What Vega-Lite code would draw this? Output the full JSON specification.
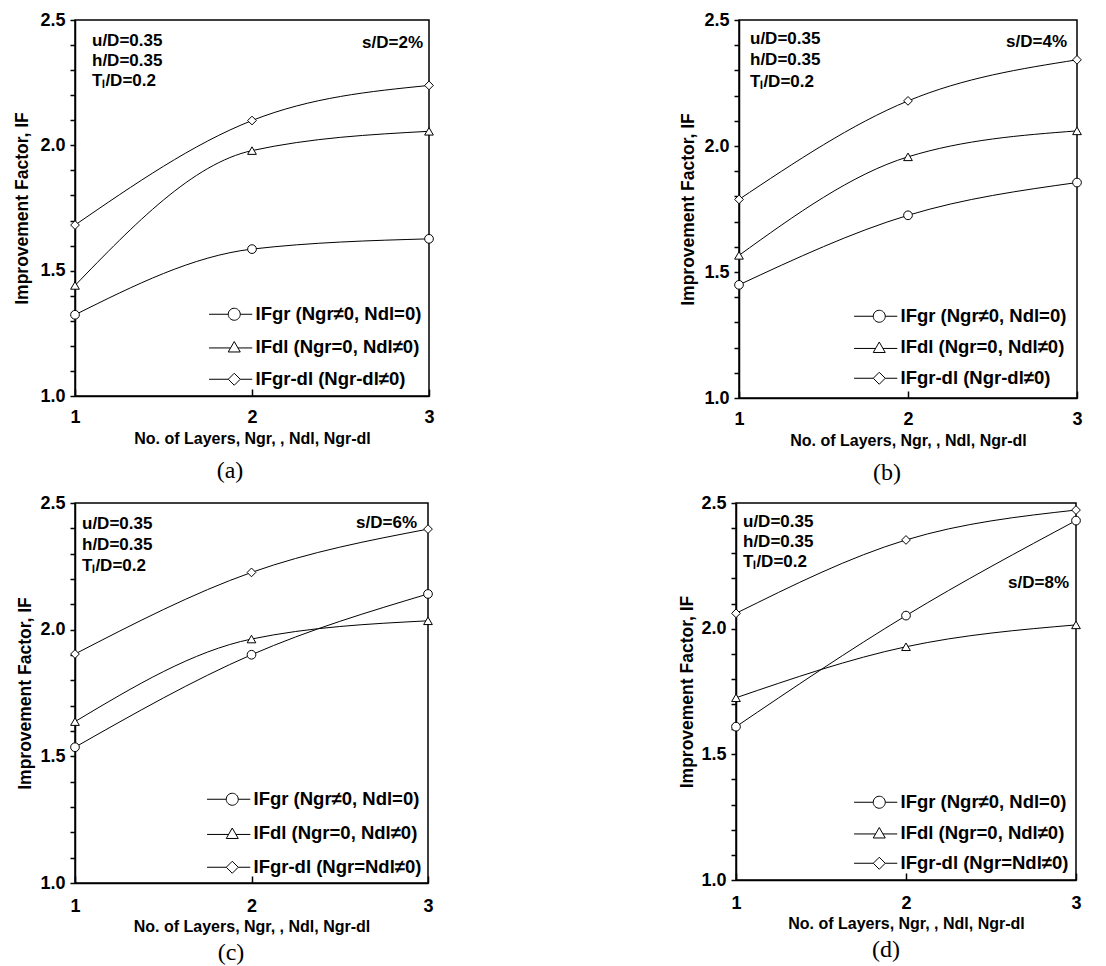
{
  "$schema": "https://vega.github.io/schema/vega-lite/v6.json",
  "padding": {"left": 12, "top": 10, "right": 5, "bottom": 0},
  "config": {
    "font": "Liberation Sans",
    "view": {"stroke": "black", "strokeWidth": 1.5},
    "axis": {"domainColor": "black", "domainWidth": 1.5, "tickColor": "black", "tickWidth": 1.5, "labelColor": "black", "titleColor": "black", "labelFont": "Liberation Sans", "titleFont": "Liberation Sans", "labelFontWeight": "bold", "titleFontWeight": "bold", "labelFontSize": 18, "grid": false},
    "legend": {"orient": "bottom-right", "title": null, "labelFont": "Liberation Sans", "labelFontWeight": "bold", "labelFontSize": 18.5, "labelColor": "black", "labelLimit": 400, "symbolStrokeColor": "black", "symbolStrokeWidth": 1, "symbolSize": 144, "labelOffset": 12, "padding": 0},
    "title": {"font": "Liberation Serif", "fontWeight": "normal", "fontSize": 24, "color": "black", "orient": "bottom", "frame": "bounds", "anchor": "middle"}
  },
  "datasets": {
    "series": [
      {"panel": "a", "series": "IFgr (Ngr≠0, Ndl=0)", "layers": 1, "IF": 1.324},
      {"panel": "a", "series": "IFgr (Ngr≠0, Ndl=0)", "layers": 2, "IF": 1.586},
      {"panel": "a", "series": "IFgr (Ngr≠0, Ndl=0)", "layers": 3, "IF": 1.627},
      {"panel": "a", "series": "IFdl (Ngr=0, Ndl≠0)", "layers": 1, "IF": 1.441},
      {"panel": "a", "series": "IFdl (Ngr=0, Ndl≠0)", "layers": 2, "IF": 1.979},
      {"panel": "a", "series": "IFdl (Ngr=0, Ndl≠0)", "layers": 3, "IF": 2.056},
      {"panel": "a", "series": "IFgr-dl (Ngr-dl≠0)", "layers": 1, "IF": 1.682},
      {"panel": "a", "series": "IFgr-dl (Ngr-dl≠0)", "layers": 2, "IF": 2.099},
      {"panel": "a", "series": "IFgr-dl (Ngr-dl≠0)", "layers": 3, "IF": 2.239},
      {"panel": "b", "series": "IFgr (Ngr≠0, Ndl=0)", "layers": 1, "IF": 1.449},
      {"panel": "b", "series": "IFgr (Ngr≠0, Ndl=0)", "layers": 2, "IF": 1.725},
      {"panel": "b", "series": "IFgr (Ngr≠0, Ndl=0)", "layers": 3, "IF": 1.855},
      {"panel": "b", "series": "IFdl (Ngr=0, Ndl≠0)", "layers": 1, "IF": 1.566},
      {"panel": "b", "series": "IFdl (Ngr=0, Ndl≠0)", "layers": 2, "IF": 1.957},
      {"panel": "b", "series": "IFdl (Ngr=0, Ndl≠0)", "layers": 3, "IF": 2.06},
      {"panel": "b", "series": "IFgr-dl (Ngr-dl≠0)", "layers": 1, "IF": 1.788},
      {"panel": "b", "series": "IFgr-dl (Ngr-dl≠0)", "layers": 2, "IF": 2.179},
      {"panel": "b", "series": "IFgr-dl (Ngr-dl≠0)", "layers": 3, "IF": 2.342},
      {"panel": "c", "series": "IFgr (Ngr≠0, Ndl=0)", "layers": 1, "IF": 1.536},
      {"panel": "c", "series": "IFgr (Ngr≠0, Ndl=0)", "layers": 2, "IF": 1.901},
      {"panel": "c", "series": "IFgr (Ngr≠0, Ndl=0)", "layers": 3, "IF": 2.141},
      {"panel": "c", "series": "IFdl (Ngr=0, Ndl≠0)", "layers": 1, "IF": 1.637},
      {"panel": "c", "series": "IFdl (Ngr=0, Ndl≠0)", "layers": 2, "IF": 1.963},
      {"panel": "c", "series": "IFdl (Ngr=0, Ndl≠0)", "layers": 3, "IF": 2.035},
      {"panel": "c", "series": "IFgr-dl (Ngr=Ndl≠0)", "layers": 1, "IF": 1.904},
      {"panel": "c", "series": "IFgr-dl (Ngr=Ndl≠0)", "layers": 2, "IF": 2.226},
      {"panel": "c", "series": "IFgr-dl (Ngr=Ndl≠0)", "layers": 3, "IF": 2.397},
      {"panel": "d", "series": "IFgr (Ngr≠0, Ndl=0)", "layers": 1, "IF": 1.61},
      {"panel": "d", "series": "IFgr (Ngr≠0, Ndl=0)", "layers": 2, "IF": 2.052},
      {"panel": "d", "series": "IFgr (Ngr≠0, Ndl=0)", "layers": 3, "IF": 2.43},
      {"panel": "d", "series": "IFdl (Ngr=0, Ndl≠0)", "layers": 1, "IF": 1.725},
      {"panel": "d", "series": "IFdl (Ngr=0, Ndl≠0)", "layers": 2, "IF": 1.928},
      {"panel": "d", "series": "IFdl (Ngr=0, Ndl≠0)", "layers": 3, "IF": 2.015},
      {"panel": "d", "series": "IFgr-dl (Ngr=Ndl≠0)", "layers": 1, "IF": 2.061},
      {"panel": "d", "series": "IFgr-dl (Ngr=Ndl≠0)", "layers": 2, "IF": 2.353},
      {"panel": "d", "series": "IFgr-dl (Ngr=Ndl≠0)", "layers": 3, "IF": 2.472}
    ],
    "notes": [
      {"panel": "a", "side": "left", "label": "u/D=0.35", "layers": 1, "IF": 2.415},
      {"panel": "a", "side": "left", "label": "h/D=0.35", "layers": 1, "IF": 2.338},
      {"panel": "a", "side": "left", "label": "Tₗ/D=0.2", "layers": 1, "IF": 2.258},
      {"panel": "a", "side": "right", "label": "s/D=2%", "layers": 3, "IF": 2.41},
      {"panel": "b", "side": "left", "label": "u/D=0.35", "layers": 1, "IF": 2.424},
      {"panel": "b", "side": "left", "label": "h/D=0.35", "layers": 1, "IF": 2.341},
      {"panel": "b", "side": "left", "label": "Tₗ/D=0.2", "layers": 1, "IF": 2.255},
      {"panel": "b", "side": "right", "label": "s/D=4%", "layers": 3, "IF": 2.411},
      {"panel": "c", "side": "left", "label": "u/D=0.35", "layers": 1, "IF": 2.417},
      {"panel": "c", "side": "left", "label": "h/D=0.35", "layers": 1, "IF": 2.335},
      {"panel": "c", "side": "left", "label": "Tₗ/D=0.2", "layers": 1, "IF": 2.25},
      {"panel": "c", "side": "right", "label": "s/D=6%", "layers": 3, "IF": 2.423},
      {"panel": "d", "side": "left", "label": "u/D=0.35", "layers": 1, "IF": 2.426},
      {"panel": "d", "side": "left", "label": "h/D=0.35", "layers": 1, "IF": 2.346},
      {"panel": "d", "side": "left", "label": "Tₗ/D=0.2", "layers": 1, "IF": 2.266},
      {"panel": "d", "side": "right", "label": "s/D=8%", "layers": 3, "IF": 2.18}
    ]
  },
  "spacing": 7,
  "vconcat": [
    {
      "spacing": 230,
      "hconcat": [
        {
          "width": 354, "height": 376,
          "title": {"text": "(a)", "offset": 13},
          "encoding": {
            "x": {"field": "layers", "type": "quantitative", "scale": {"domain": [1, 3], "nice": false, "zero": false}, "axis": {"tickCount": 2, "format": "d", "tickSize": -7, "labelPadding": 19, "labelFlush": false, "labelOverlap": false, "title": "No. of Layers, Ngr, , Ndl, Ngr-dl", "titleFontSize": 16, "titlePadding": 4}},
            "y": {"field": "IF", "type": "quantitative", "scale": {"domain": [1, 2.5], "nice": false, "zero": false}, "axis": {"values": [1, 1.1, 1.2, 1.3, 1.4, 1.5, 1.6, 1.7, 1.8, 1.9, 2, 2.1, 2.2, 2.3, 2.4, 2.5], "labelExpr": "round(datum.value * 10) % 5 == 0 ? format(datum.value, '.1f') : ''", "labelOverlap": false, "tickSize": 5, "labelPadding": 5, "title": "Improvement Factor, IF", "titleFontSize": 17.5, "titlePadding": 8, "minExtent": 36, "maxExtent": 36}}
          },
          "layer": [
            {"data": {"name": "series"}, "transform": [{"filter": "datum.panel == 'a'"}], "mark": {"type": "line", "interpolate": "monotone", "color": "black", "strokeWidth": 1}, "encoding": {"detail": {"field": "series"}}},
            {"data": {"name": "series"}, "transform": [{"filter": "datum.panel == 'a'"}], "mark": {"type": "point", "filled": true, "fill": "white", "stroke": "black", "strokeWidth": 1, "size": 76, "opacity": 1}, "encoding": {"shape": {"field": "series", "scale": {"domain": ["IFgr (Ngr≠0, Ndl=0)", "IFdl (Ngr=0, Ndl≠0)", "IFgr-dl (Ngr-dl≠0)"], "range": ["circle", "triangle-up", "diamond"]}, "legend": null}}},
            {"data": {"name": "series"}, "transform": [{"filter": "datum.panel == 'a'"}], "mark": {"type": "point", "filled": false, "color": "black", "size": 144, "opacity": 0}, "encoding": {"shape": {"field": "series", "scale": {"domain": ["IFgr (Ngr≠0, Ndl=0)", "IFdl (Ngr=0, Ndl≠0)", "IFgr-dl (Ngr-dl≠0)"], "range": ["M-4.2,0H-1M1,0H3M-1,0A1,1,0,1,1,1,0A1,1,0,1,1,-1,0", "M-4.2,0.2H-0.615M0.615,0.2H3M0,-0.87L1,0.87L-1,0.87Z", "M-4.2,0H-1M1,0H3M0,-1L1,0L0,1L-1,0Z"]}, "legend": {"offset": 7, "rowPadding": 13.5}}}},
            {"data": {"name": "notes"}, "transform": [{"filter": "datum.panel == 'a' && datum.side == 'left'"}], "mark": {"type": "text", "align": "left", "baseline": "middle", "dx": 17, "font": "Liberation Sans", "fontWeight": "bold", "fontSize": 17, "color": "black"}, "encoding": {"text": {"field": "label"}}},
            {"data": {"name": "notes"}, "transform": [{"filter": "datum.panel == 'a' && datum.side == 'right'"}], "mark": {"type": "text", "align": "right", "baseline": "middle", "dx": -6, "font": "Liberation Sans", "fontWeight": "bold", "fontSize": 17, "color": "black"}, "encoding": {"text": {"field": "label"}}}
          ],
          "resolve": {"scale": {"shape": "independent"}}
        },
        {
          "width": 338, "height": 378,
          "title": {"text": "(b)", "offset": 13},
          "encoding": {
            "x": {"field": "layers", "type": "quantitative", "scale": {"domain": [1, 3], "nice": false, "zero": false}, "axis": {"tickCount": 2, "format": "d", "tickSize": -7, "labelPadding": 19, "labelFlush": false, "labelOverlap": false, "title": "No. of Layers, Ngr, , Ndl, Ngr-dl", "titleFontSize": 16, "titlePadding": 4}},
            "y": {"field": "IF", "type": "quantitative", "scale": {"domain": [1, 2.5], "nice": false, "zero": false}, "axis": {"values": [1, 1.1, 1.2, 1.3, 1.4, 1.5, 1.6, 1.7, 1.8, 1.9, 2, 2.1, 2.2, 2.3, 2.4, 2.5], "labelExpr": "round(datum.value * 10) % 5 == 0 ? format(datum.value, '.1f') : ''", "labelOverlap": false, "tickSize": 5, "labelPadding": 5, "title": "Improvement Factor, IF", "titleFontSize": 17.5, "titlePadding": 6, "minExtent": 36, "maxExtent": 36}}
          },
          "layer": [
            {"data": {"name": "series"}, "transform": [{"filter": "datum.panel == 'b'"}], "mark": {"type": "line", "interpolate": "monotone", "color": "black", "strokeWidth": 1}, "encoding": {"detail": {"field": "series"}}},
            {"data": {"name": "series"}, "transform": [{"filter": "datum.panel == 'b'"}], "mark": {"type": "point", "filled": true, "fill": "white", "stroke": "black", "strokeWidth": 1, "size": 76, "opacity": 1}, "encoding": {"shape": {"field": "series", "scale": {"domain": ["IFgr (Ngr≠0, Ndl=0)", "IFdl (Ngr=0, Ndl≠0)", "IFgr-dl (Ngr-dl≠0)"], "range": ["circle", "triangle-up", "diamond"]}, "legend": null}}},
            {"data": {"name": "series"}, "transform": [{"filter": "datum.panel == 'b'"}], "mark": {"type": "point", "filled": false, "color": "black", "size": 144, "opacity": 0}, "encoding": {"shape": {"field": "series", "scale": {"domain": ["IFgr (Ngr≠0, Ndl=0)", "IFdl (Ngr=0, Ndl≠0)", "IFgr-dl (Ngr-dl≠0)"], "range": ["M-4.2,0H-1M1,0H3M-1,0A1,1,0,1,1,1,0A1,1,0,1,1,-1,0", "M-4.2,0.2H-0.615M0.615,0.2H3M0,-0.87L1,0.87L-1,0.87Z", "M-4.2,0H-1M1,0H3M0,-1L1,0L0,1L-1,0Z"]}, "legend": {"offset": 10, "rowPadding": 12}}}},
            {"data": {"name": "notes"}, "transform": [{"filter": "datum.panel == 'b' && datum.side == 'left'"}], "mark": {"type": "text", "align": "left", "baseline": "middle", "dx": 11, "font": "Liberation Sans", "fontWeight": "bold", "fontSize": 17, "color": "black"}, "encoding": {"text": {"field": "label"}}},
            {"data": {"name": "notes"}, "transform": [{"filter": "datum.panel == 'b' && datum.side == 'right'"}], "mark": {"type": "text", "align": "right", "baseline": "middle", "dx": -10, "font": "Liberation Sans", "fontWeight": "bold", "fontSize": 17, "color": "black"}, "encoding": {"text": {"field": "label"}}}
          ],
          "resolve": {"scale": {"shape": "independent"}}
        }
      ]
    },
    {
      "spacing": 230,
      "hconcat": [
        {
          "width": 353, "height": 380,
          "title": {"text": "(c)", "offset": 7},
          "encoding": {
            "x": {"field": "layers", "type": "quantitative", "scale": {"domain": [1, 3], "nice": false, "zero": false}, "axis": {"tickCount": 2, "format": "d", "tickSize": -7, "labelPadding": 21, "labelFlush": false, "labelOverlap": false, "title": "No. of Layers, Ngr, , Ndl, Ngr-dl", "titleFontSize": 16, "titlePadding": 3}},
            "y": {"field": "IF", "type": "quantitative", "scale": {"domain": [1, 2.5], "nice": false, "zero": false}, "axis": {"values": [1, 1.1, 1.2, 1.3, 1.4, 1.5, 1.6, 1.7, 1.8, 1.9, 2, 2.1, 2.2, 2.3, 2.4, 2.5], "labelExpr": "round(datum.value * 10) % 5 == 0 ? format(datum.value, '.1f') : ''", "labelOverlap": false, "tickSize": 5, "labelPadding": 5, "title": "Improvement Factor, IF", "titleFontSize": 17.5, "titlePadding": 5, "minExtent": 36, "maxExtent": 36}}
          },
          "layer": [
            {"data": {"name": "series"}, "transform": [{"filter": "datum.panel == 'c'"}], "mark": {"type": "line", "interpolate": "monotone", "color": "black", "strokeWidth": 1}, "encoding": {"detail": {"field": "series"}}},
            {"data": {"name": "series"}, "transform": [{"filter": "datum.panel == 'c'"}], "mark": {"type": "point", "filled": true, "fill": "white", "stroke": "black", "strokeWidth": 1, "size": 76, "opacity": 1}, "encoding": {"shape": {"field": "series", "scale": {"domain": ["IFgr (Ngr≠0, Ndl=0)", "IFdl (Ngr=0, Ndl≠0)", "IFgr-dl (Ngr=Ndl≠0)"], "range": ["circle", "triangle-up", "diamond"]}, "legend": null}}},
            {"data": {"name": "series"}, "transform": [{"filter": "datum.panel == 'c'"}], "mark": {"type": "point", "filled": false, "color": "black", "size": 144, "opacity": 0}, "encoding": {"shape": {"field": "series", "scale": {"domain": ["IFgr (Ngr≠0, Ndl=0)", "IFdl (Ngr=0, Ndl≠0)", "IFgr-dl (Ngr=Ndl≠0)"], "range": ["M-4.2,0H-1M1,0H3M-1,0A1,1,0,1,1,1,0A1,1,0,1,1,-1,0", "M-4.2,0.2H-0.615M0.615,0.2H3M0,-0.87L1,0.87L-1,0.87Z", "M-4.2,0H-1M1,0H3M0,-1L1,0L0,1L-1,0Z"]}, "legend": {"offset": 6, "rowPadding": 15}}}},
            {"data": {"name": "notes"}, "transform": [{"filter": "datum.panel == 'c' && datum.side == 'left'"}], "mark": {"type": "text", "align": "left", "baseline": "middle", "dx": 7, "font": "Liberation Sans", "fontWeight": "bold", "fontSize": 17, "color": "black"}, "encoding": {"text": {"field": "label"}}},
            {"data": {"name": "notes"}, "transform": [{"filter": "datum.panel == 'c' && datum.side == 'right'"}], "mark": {"type": "text", "align": "right", "baseline": "middle", "dx": -11, "font": "Liberation Sans", "fontWeight": "bold", "fontSize": 17, "color": "black"}, "encoding": {"text": {"field": "label"}}}
          ],
          "resolve": {"scale": {"shape": "independent"}}
        },
        {
          "width": 340, "height": 377,
          "title": {"text": "(d)", "offset": 7},
          "encoding": {
            "x": {"field": "layers", "type": "quantitative", "scale": {"domain": [1, 3], "nice": false, "zero": false}, "axis": {"tickCount": 2, "format": "d", "tickSize": -7, "labelPadding": 21, "labelFlush": false, "labelOverlap": false, "title": "No. of Layers, Ngr, , Ndl, Ngr-dl", "titleFontSize": 16, "titlePadding": 3}},
            "y": {"field": "IF", "type": "quantitative", "scale": {"domain": [1, 2.5], "nice": false, "zero": false}, "axis": {"values": [1, 1.1, 1.2, 1.3, 1.4, 1.5, 1.6, 1.7, 1.8, 1.9, 2, 2.1, 2.2, 2.3, 2.4, 2.5], "labelExpr": "round(datum.value * 10) % 5 == 0 ? format(datum.value, '.1f') : ''", "labelOverlap": false, "tickSize": 5, "labelPadding": 5, "title": "Improvement Factor, IF", "titleFontSize": 17.5, "titlePadding": 4, "minExtent": 36, "maxExtent": 36}}
          },
          "layer": [
            {"data": {"name": "series"}, "transform": [{"filter": "datum.panel == 'd'"}], "mark": {"type": "line", "interpolate": "monotone", "color": "black", "strokeWidth": 1}, "encoding": {"detail": {"field": "series"}}},
            {"data": {"name": "series"}, "transform": [{"filter": "datum.panel == 'd'"}], "mark": {"type": "point", "filled": true, "fill": "white", "stroke": "black", "strokeWidth": 1, "size": 76, "opacity": 1}, "encoding": {"shape": {"field": "series", "scale": {"domain": ["IFgr (Ngr≠0, Ndl=0)", "IFdl (Ngr=0, Ndl≠0)", "IFgr-dl (Ngr=Ndl≠0)"], "range": ["circle", "triangle-up", "diamond"]}, "legend": null}}},
            {"data": {"name": "series"}, "transform": [{"filter": "datum.panel == 'd'"}], "mark": {"type": "point", "filled": false, "color": "black", "size": 144, "opacity": 0}, "encoding": {"shape": {"field": "series", "scale": {"domain": ["IFgr (Ngr≠0, Ndl=0)", "IFdl (Ngr=0, Ndl≠0)", "IFgr-dl (Ngr=Ndl≠0)"], "range": ["M-4.2,0H-1M1,0H3M-1,0A1,1,0,1,1,1,0A1,1,0,1,1,-1,0", "M-4.2,0.2H-0.615M0.615,0.2H3M0,-0.87L1,0.87L-1,0.87Z", "M-4.2,0H-1M1,0H3M0,-1L1,0L0,1L-1,0Z"]}, "legend": {"offset": 7, "rowPadding": 11.5}}}},
            {"data": {"name": "notes"}, "transform": [{"filter": "datum.panel == 'd' && datum.side == 'left'"}], "mark": {"type": "text", "align": "left", "baseline": "middle", "dx": 7, "font": "Liberation Sans", "fontWeight": "bold", "fontSize": 17, "color": "black"}, "encoding": {"text": {"field": "label"}}},
            {"data": {"name": "notes"}, "transform": [{"filter": "datum.panel == 'd' && datum.side == 'right'"}], "mark": {"type": "text", "align": "right", "baseline": "middle", "dx": -7, "font": "Liberation Sans", "fontWeight": "bold", "fontSize": 17, "color": "black"}, "encoding": {"text": {"field": "label"}}}
          ],
          "resolve": {"scale": {"shape": "independent"}}
        }
      ]
    }
  ]
}
